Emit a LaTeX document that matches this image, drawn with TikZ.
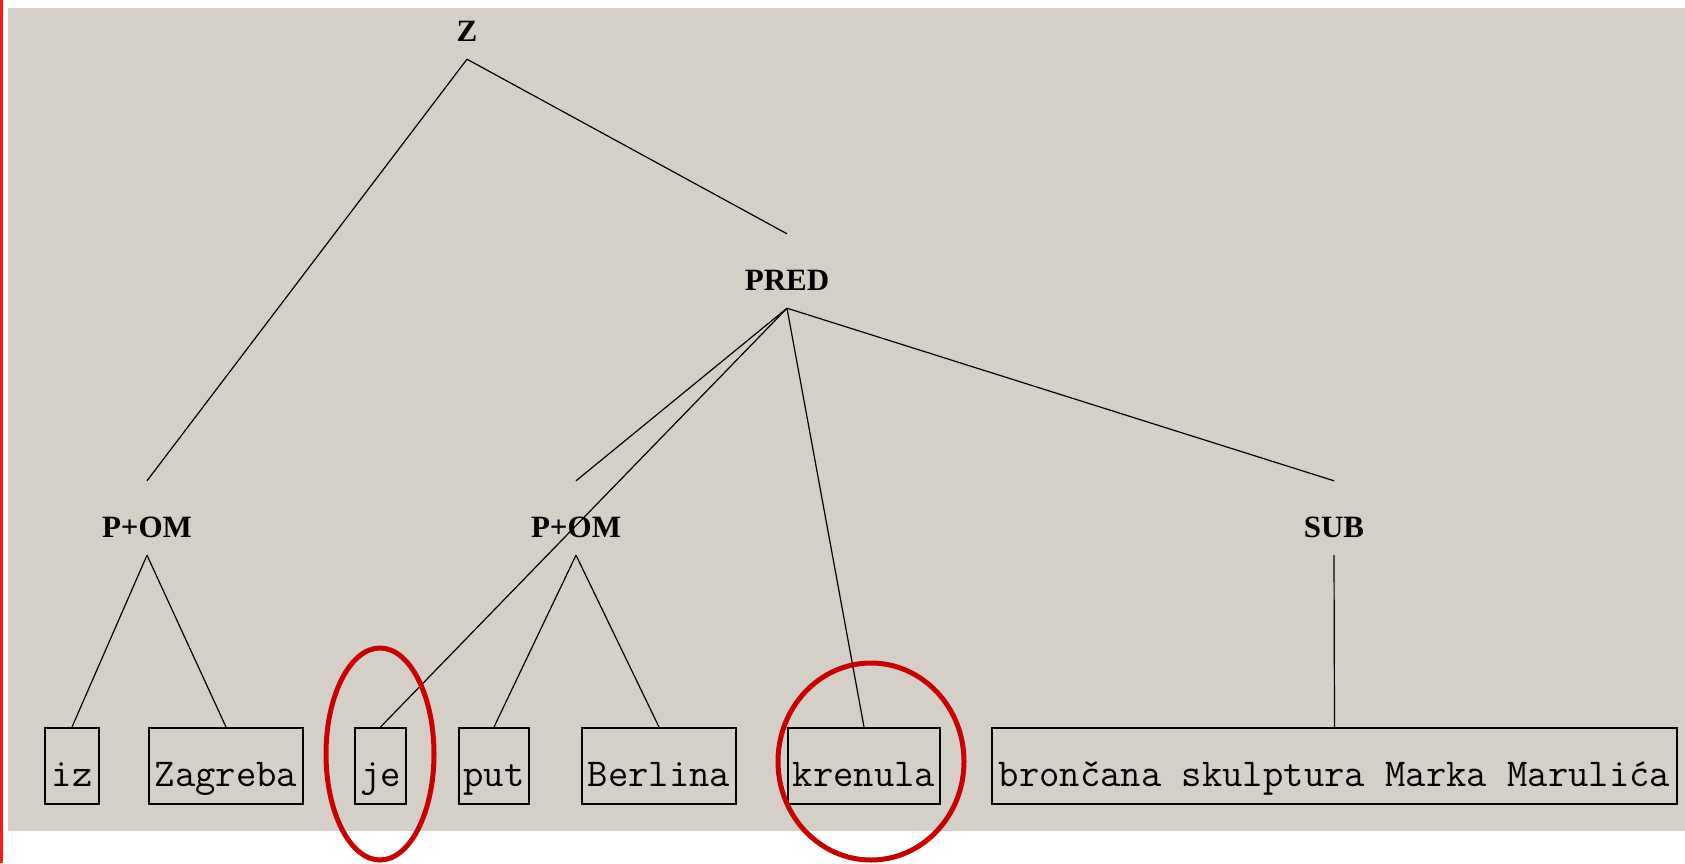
\documentclass[tikz,border=0pt]{standalone}
\usepackage{fontspec}
\newfontfamily\catfont{Liberation Serif}
\definecolor{panelgray}{HTML}{D4D0C8}
\definecolor{ringred}{HTML}{C80000}
\begin{document}
\begin{tikzpicture}[x=1pt, y=-1pt,
        cat/.style={anchor=base, inner xsep=0pt, inner ysep=18pt, text height=38pt, text depth=0pt,
            font=\catfont\bfseries\fontsize{31}{36}\selectfont},
        word/.style={draw, anchor=north, line width=1.6pt, inner xsep=4pt, inner ysep=4pt,
            text height=55pt, text depth=13pt, font=\ttfamily\fontsize{39.5}{46}\selectfont},
        ring/.style={draw=ringred, line width=5pt}]
            \useasboundingbox (0,0) rectangle (1685,863);
            \fill[panelgray] (8,8) rectangle (1685,831);
            \fill[red!90] (0,0) rectangle (2.5,863);

            \node[cat] at (467, 41) (z) {Z};
            \node[cat] at (787, 290) (pred) {PRED};

            \node[cat] at (147, 537) (pom1) {P+OM};
            \node[cat] at (576, 537) (pom2) {P+OM};
            \node[cat] at (1334, 537) (sub) {SUB};

            \node[word, minimum width=54pt] at (72, 727) (iz) {iz};
            \node[word, minimum width=154pt] at (226, 727) (zagreba) {Zagreba};
            \node[word, minimum width=51pt] at (380.5, 727) (je) {je};
            \node[word, minimum width=70pt] at (494, 727) (put) {put};
            \node[word, minimum width=154pt] at (659, 727) (berlina) {Berlina};
            \node[word, minimum width=152pt] at (864, 727) (krenula) {krenula};
            \node[word, minimum width=685pt] at (1334.5, 727) (skulptura) {bron\v{c}ana skulptura Marka Maruli\'{c}a};

            \draw[line width=1.2pt](z.south) -- (pom1.north);
            \draw[line width=1.2pt](z.south) -- (pred.north);

            \draw[line width=1.2pt](pred.south) -- (pom2.north);
            \draw[line width=1.2pt](pred.south) -- (je.north);
            \draw[line width=1.2pt](pred.south) -- (krenula.north);
            \draw[line width=1.2pt](pred.south) -- (sub.north);

            \draw[line width=1.2pt](pom1.south) -- (iz.north);
            \draw[line width=1.2pt](pom1.south) -- (zagreba.north);

            \draw[line width=1.2pt](pom2.south) -- (put.north);
            \draw[line width=1.2pt](pom2.south) -- (berlina.north);

            \draw[line width=1.2pt](sub.south) -- (skulptura.north);

            \draw[ring] (380, 754) ellipse [x radius=54pt, y radius=106pt];
            \draw[ring] (871, 761.5) ellipse [x radius=93pt, y radius=98.5pt];
        \end{tikzpicture}
\end{document}
